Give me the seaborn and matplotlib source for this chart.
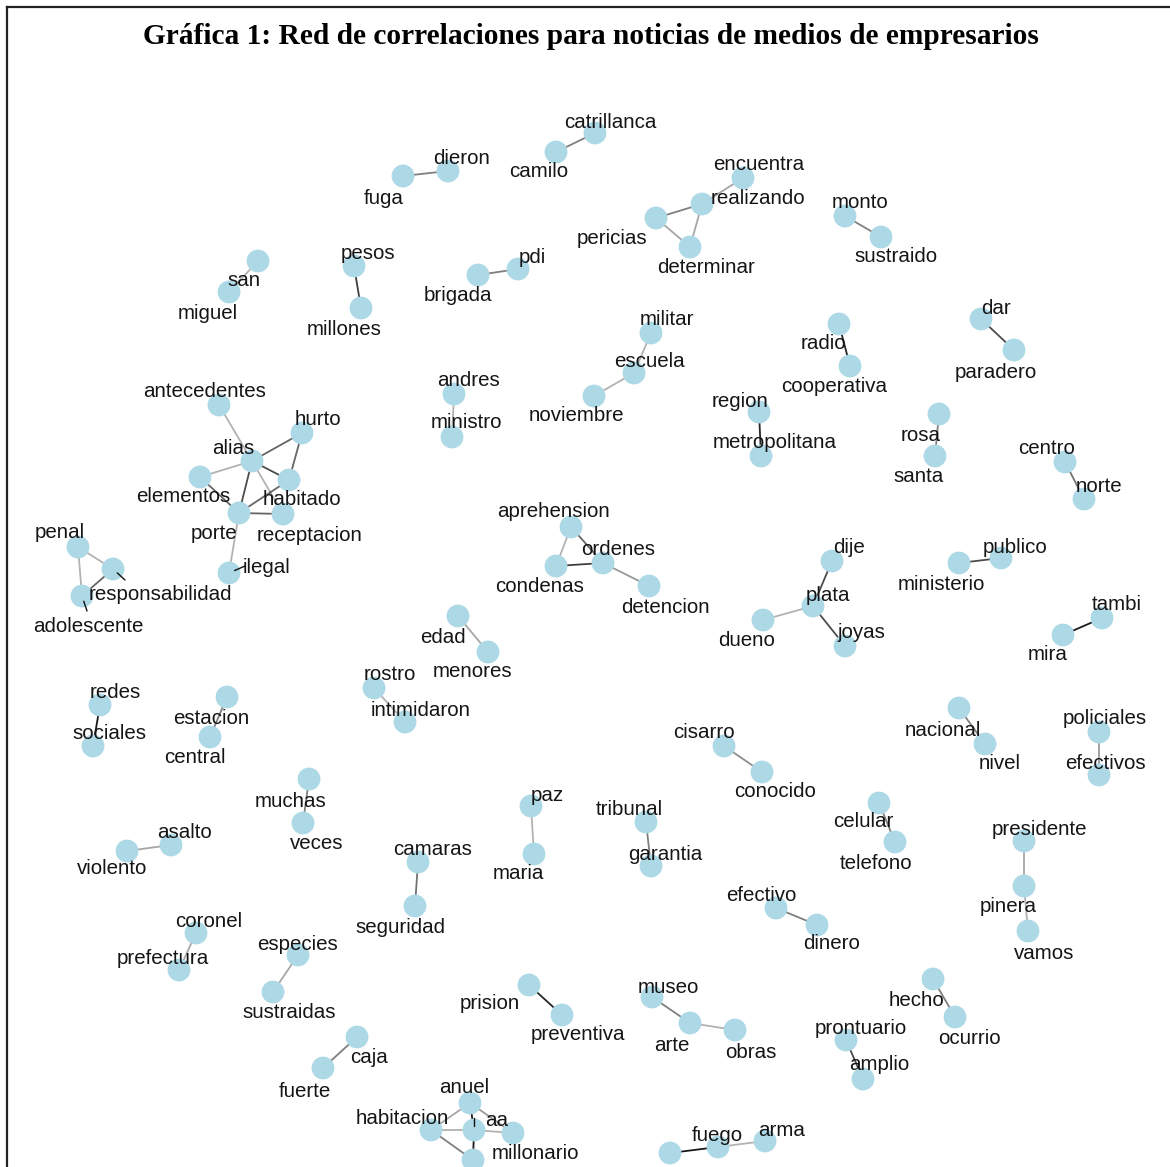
import matplotlib
matplotlib.use("Agg")
import matplotlib.pyplot as plt
import seaborn as sns
import pandas as pd

# ---------------- data ----------------
nodes = ["catrillanca", "camilo", "dieron", "fuga", "encuentra", "realizando", "pericias",
         "determinar", "monto", "sustraido", "san", "miguel", "pesos", "millones", "pdi",
         "brigada", "militar", "escuela", "noviembre", "radio", "cooperativa", "dar",
         "paradero", "andres", "ministro", "region", "metropolitana", "rosa", "santa",
         "centro", "norte", "antecedentes", "hurto", "alias", "elementos", "habitado",
         "porte", "receptacion", "ilegal", "penal", "responsabilidad", "adolescente",
         "aprehension", "ordenes", "condenas", "detencion", "dije", "plata", "dueno",
         "joyas", "publico", "ministerio", "tambi", "mira", "edad", "menores", "rostro",
         "intimidaron", "redes", "sociales", "estacion", "central", "cisarro", "conocido",
         "nacional", "nivel", "policiales", "efectivos", "muchas", "veces", "asalto",
         "violento", "paz", "maria", "tribunal", "garantia", "celular", "telefono",
         "presidente", "pinera", "vamos", "camaras", "seguridad", "efectivo", "dinero",
         "coronel", "prefectura", "especies", "sustraidas", "prision", "preventiva",
         "museo", "arte", "obras", "hecho", "ocurrio", "prontuario", "amplio", "caja",
         "fuerte", "anuel", "habitacion", "aa", "millonario", "n_bottom1", "fuego",
         "arma", "n_bottom2"]

node_x = [595, 556, 448, 403, 743, 702, 656, 690, 845, 881, 258, 229, 354, 361, 518,
          478, 651, 634, 594, 839, 850, 981, 1014, 454, 452, 759, 761, 939, 935,
          1065, 1084, 219, 302, 252, 200, 289, 239, 283, 229, 78, 113, 82,
          571, 603, 556, 649, 832, 813, 763, 845, 1001, 959, 1102, 1063, 458, 488, 374,
          405, 100, 93, 227, 210, 724, 762, 959, 985, 1099, 1099, 309, 303, 171,
          127, 531, 534, 646, 651, 879, 895, 1024, 1024, 1028, 418, 415, 776, 817,
          196, 179, 298, 273, 529, 562, 652, 690, 735, 933, 955, 846, 863, 357,
          323, 470, 431, 474, 513, 473, 718, 765, 670]

node_y = [133, 152, 171, 176, 178, 204, 218, 247, 216, 237, 261, 292, 266, 308, 269,
          275, 333, 373, 396, 324, 366, 319, 350, 394, 437, 412, 456, 414, 456,
          462, 499, 405, 433, 461, 477, 480, 513, 514, 573, 547, 569, 596,
          527, 563, 566, 586, 561, 606, 620, 646, 558, 563, 618, 635, 616, 652, 688,
          722, 705, 746, 697, 737, 746, 772, 708, 744, 732, 775, 779, 823, 845,
          851, 806, 854, 822, 866, 803, 842, 841, 886, 931, 862, 906, 908, 925,
          933, 970, 955, 992, 985, 1015, 997, 1023, 1030, 979, 1017, 1040, 1079, 1037,
          1068, 1103, 1130, 1130, 1133, 1160, 1147, 1141, 1153]

# correlation edges (source, target, strength)
edge_from = ["catrillanca", "dieron", "encuentra", "realizando", "pericias", "realizando",
             "monto", "san", "pesos", "brigada", "militar", "escuela", "radio", "dar",
             "andres", "region", "rosa", "centro", "antecedentes", "alias", "hurto",
             "alias", "alias", "alias", "alias", "elementos", "porte", "porte", "porte",
             "penal", "penal", "responsabilidad", "aprehension", "aprehension", "condenas",
             "ordenes", "dije", "plata", "plata", "publico", "tambi", "edad", "rostro",
             "redes", "estacion", "cisarro", "nacional", "policiales", "muchas", "asalto",
             "paz", "tribunal", "celular", "presidente", "pinera", "camaras", "efectivo",
             "coronel", "especies", "prision", "museo", "arte", "hecho", "prontuario",
             "caja", "anuel", "anuel", "anuel", "habitacion", "aa", "habitacion", "aa",
             "fuego", "fuego"]
edge_to = ["camilo", "fuga", "realizando", "pericias", "determinar", "determinar",
           "sustraido", "miguel", "millones", "pdi", "escuela", "noviembre", "cooperativa",
           "paradero", "ministro", "metropolitana", "santa", "norte", "alias", "hurto",
           "habitado", "habitado", "elementos", "porte", "receptacion", "porte", "habitado",
           "receptacion", "ilegal", "responsabilidad", "adolescente", "adolescente",
           "ordenes", "condenas", "ordenes", "detencion", "plata", "dueno", "joyas",
           "ministerio", "mira", "menores", "intimidaron", "sociales", "central",
           "conocido", "nivel", "efectivos", "veces", "violento", "maria", "garantia",
           "telefono", "pinera", "vamos", "seguridad", "dinero", "prefectura",
           "sustraidas", "preventiva", "arte", "obras", "ocurrio", "amplio", "fuerte",
           "habitacion", "aa", "millonario", "aa", "millonario", "n_bottom1", "n_bottom1",
           "arma", "n_bottom2"]
edge_strength = [0.5, 0.5, 0.35, 0.5, 0.35, 0.35, 0.5, 0.3, 0.75, 0.5, 0.3, 0.3, 0.85,
                 0.7, 0.3, 0.85, 0.5, 0.55, 0.3, 0.6, 0.6, 0.7, 0.3, 0.7, 0.3, 0.6, 0.6,
                 0.6, 0.3, 0.3, 0.3, 0.6, 0.6, 0.3, 0.75, 0.4, 0.7, 0.3, 0.7, 0.7, 0.9,
                 0.35, 0.3, 0.9, 0.5, 0.45, 0.5, 0.4, 0.5, 0.35, 0.3, 0.5, 0.5, 0.35,
                 0.3, 0.55, 0.5, 0.35, 0.35, 0.85, 0.5, 0.3, 0.5, 0.7, 0.5, 0.35, 0.9,
                 0.4, 0.3, 0.3, 0.5, 0.9, 0.3, 0.9]

title = "Gráfica 1: Red de correlaciones para noticias de medios de empresarios"

# ---------------- layout / style (label placement from repel) ----------------
label_pos = {
    "catrillanca": (610, 121), "camilo": (539, 170), "dieron": (462, 157), "fuga": (384, 197),
    "encuentra": (759, 163), "realizando": (758, 197), "pericias": (612, 237),
    "determinar": (706, 266), "monto": (860, 201), "sustraido": (896, 255),
    "san": (244, 279), "miguel": (208, 312), "pesos": (368, 252), "millones": (344, 328),
    "pdi": (532, 256), "brigada": (458, 294), "militar": (667, 318), "escuela": (649, 360),
    "noviembre": (576, 414), "radio": (823, 342), "cooperativa": (834, 385),
    "dar": (996, 307), "paradero": (996, 371), "andres": (469, 379), "ministro": (466, 421),
    "region": (740, 400), "metropolitana": (775, 441), "rosa": (921, 434),
    "santa": (919, 475), "centro": (1047, 447), "norte": (1099, 485),
    "antecedentes": (205, 390), "hurto": (318, 418), "alias": (233, 447),
    "elementos": (183, 495), "habitado": (302, 498), "porte": (214, 532),
    "receptacion": (310, 534), "ilegal": (266, 566), "penal": (60, 531),
    "responsabilidad": (160, 593), "adolescente": (88, 625), "aprehension": (554, 510),
    "ordenes": (618, 548), "condenas": (540, 585), "detencion": (665, 606),
    "dije": (849, 546), "plata": (828, 594), "dueno": (747, 639), "joyas": (861, 631),
    "publico": (1015, 546), "ministerio": (941, 583), "tambi": (1117, 603),
    "mira": (1048, 653), "edad": (443, 636), "menores": (472, 670), "rostro": (390, 673),
    "intimidaron": (421, 709), "redes": (115, 691), "sociales": (109, 732),
    "estacion": (211, 717), "central": (195, 756), "cisarro": (704, 731),
    "conocido": (775, 790), "nacional": (943, 729), "nivel": (1000, 762),
    "policiales": (1105, 717), "efectivos": (1105, 762), "muchas": (291, 800),
    "veces": (317, 842), "asalto": (185, 831), "violento": (112, 867), "paz": (547, 794),
    "maria": (518, 872), "tribunal": (629, 808), "garantia": (665, 853),
    "celular": (863, 820), "telefono": (876, 862), "presidente": (1039, 828),
    "pinera": (1008, 905), "vamos": (1044, 952), "camaras": (433, 848),
    "seguridad": (400, 926), "efectivo": (761, 894), "dinero": (832, 942),
    "coronel": (209, 920), "prefectura": (163, 957), "especies": (298, 943),
    "sustraidas": (289, 1011), "prision": (490, 1002), "preventiva": (578, 1033),
    "museo": (668, 986), "arte": (672, 1044), "obras": (751, 1051), "hecho": (916, 999),
    "ocurrio": (969, 1037), "prontuario": (861, 1027), "amplio": (879, 1063),
    "caja": (369, 1056), "fuerte": (305, 1090), "anuel": (464, 1086),
    "habitacion": (402, 1117), "aa": (497, 1119), "millonario": (535, 1152),
    "fuego": (717, 1134), "arma": (782, 1129),
}
leader_segments = {"ilegal": (245, 566), "responsabilidad": (125, 580),
                   "adolescente": (87, 611), "aa": (474, 1118)}

W, H, DPI = 1170, 1167, 100
sns.set_theme(style="white")
plt.rcParams["font.family"] = ["Liberation Sans", "DejaVu Sans"]

fig = plt.figure(figsize=(W / DPI, H / DPI), dpi=DPI)
ax = fig.add_axes([0, 0, 1, 1])

pos = dict(zip(nodes, zip(node_x, node_y)))

# edges
for a, b, s in zip(edge_from, edge_to, edge_strength):
    (x0, y0), (x1, y1) = pos[a], pos[b]
    ax.plot([x0, x1], [y0, y1], color="black", alpha=s, lw=1.3,
            solid_capstyle="butt", zorder=1)

# nodes
df = pd.DataFrame({"x": node_x, "y": node_y, "name": nodes})
sns.scatterplot(data=df, x="x", y="y", ax=ax, s=270, color="#ADD8E6",
                edgecolor="none", linewidth=0, legend=False, zorder=2)
ax.set_xlim(0, W)
ax.set_ylim(H, 0)
ax.axis("off")

# leader segments
for n, (lx, ly) in leader_segments.items():
    x0, y0 = pos[n]
    ax.plot([x0 + (lx - x0) * 0.35, lx], [y0 + (ly - y0) * 0.35, ly],
            color="#111111", lw=1.0, zorder=3)

# labels
for n, (lx, ly) in label_pos.items():
    ax.text(lx, ly + 1.5, n, ha="center", va="center", fontsize=14.8,
            color="#151515", zorder=4)

# title and frame
ax.text(591, 37, title, ha="center", va="center", fontsize=21.2,
        fontweight="bold", family=["Liberation Serif", "DejaVu Serif"], color="black")
ax.plot([7, 7], [H, 7], color="#222222", lw=1.6, zorder=5, solid_capstyle="projecting")
ax.plot([7, W], [7, 7], color="#222222", lw=1.6, zorder=5, solid_capstyle="projecting")

fig.savefig("out.png", dpi=DPI)
